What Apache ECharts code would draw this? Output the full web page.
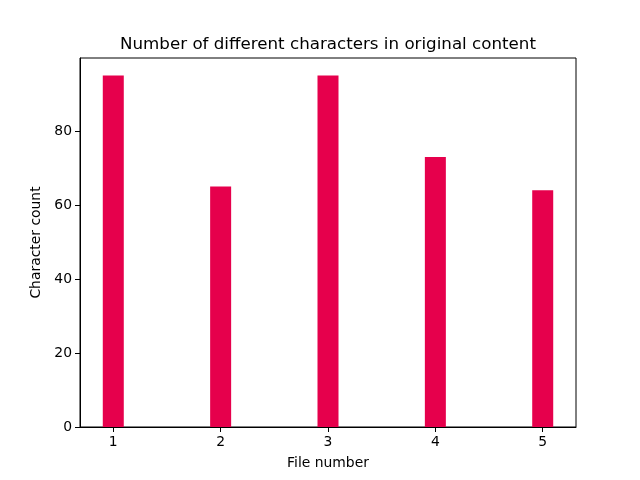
<!DOCTYPE html>
<html lang="en">
<head>
    <meta charset="UTF-8">
    <title>characters</title>
    <style type="text/css">
        html, body { margin: 0; padding: 0; background: #fff; }
        #chart { width: 640px; height: 480px; }
    </style>
</head>
<body>
    <div id="chart"></div>
    <script src="https://cdn.jsdelivr.net/npm/echarts@6/dist/echarts.min.js"></script>
    <script type="text/javascript">
        var fileNumbers = [1, 2, 3, 4, 5];
        var charCounts = [95, 65, 95, 73, 64];
        var yTicks = [0, 20, 40, 60, 80];

        var font = 'DejaVu Sans';
        var myChart = echarts.init(document.getElementById('chart'));
        var option = {
            animation: false,
            title: {
                text: 'Number of different characters in original content',
                left: 323,
                textAlign: 'center',
                top: 31,
                textStyle: { fontFamily: font, fontSize: 16.7, fontWeight: 'normal', color: '#000' }
            },
            grid: {
                left: 80, right: 64, top: 58, bottom: 53,
                show: true, borderColor: '#000', borderWidth: 1, backgroundColor: 'transparent'
            },
            xAxis: {
                type: 'value',
                min: 0.69,
                max: 5.31,
                name: 'File number',
                nameLocation: 'middle',
                nameGap: 29,
                nameTextStyle: { fontFamily: font, fontSize: 13.9, color: '#000' },
                axisLine: { show: true, lineStyle: { color: '#000', width: 1 } },
                axisTick: { show: true, length: 5, customValues: fileNumbers, lineStyle: { color: '#000' } },
                axisLabel: { customValues: fileNumbers, fontFamily: font, fontSize: 13.9, color: '#000', margin: 8 },
                splitLine: { show: false }
            },
            yAxis: {
                type: 'value',
                min: 0,
                max: 99.75,
                name: 'Character count',
                nameLocation: 'middle',
                nameGap: 34,
                nameTextStyle: { fontFamily: font, fontSize: 13.9, color: '#000' },
                axisLine: { show: true, lineStyle: { color: '#000', width: 1 } },
                axisTick: { show: true, length: 5, customValues: yTicks, lineStyle: { color: '#000' } },
                axisLabel: { customValues: yTicks, fontFamily: font, fontSize: 13.9, color: '#000', margin: 8 },
                splitLine: { show: false }
            },
            series: [
                {
                    type: 'bar',
                    barWidth: 21,
                    data: fileNumbers.map(function (x, i) { return [x, charCounts[i]]; }),
                    itemStyle: { color: '#E6004C' }
                }
            ]
        };
        myChart.setOption(option);
    </script>
</body>
</html>
